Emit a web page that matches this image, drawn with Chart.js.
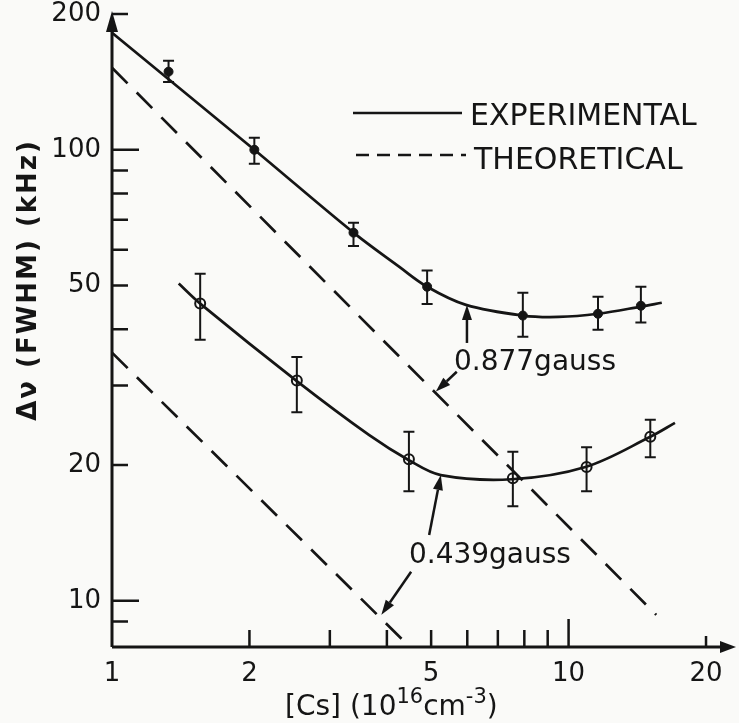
<!DOCTYPE html>
<html>
<head>
<meta charset="utf-8">
<script src="https://cdn.jsdelivr.net/npm/chart.js@4.4.1/dist/chart.umd.min.js"></script>
<style>
  html, body { margin: 0; padding: 0; background: #fafaf8; }
  #wrap { width: 739px; height: 723px; }
</style>
</head>
<body>
<div id="wrap"><canvas id="grafica"></canvas></div>
<script>
// upper set (0.877 gauss), filled dots
const altoX = [1.33, 2.05, 3.38, 4.90, 7.94, 11.6, 14.4];
const altoY = [149, 100, 65.5, 49.7, 42.9, 43.3, 45.1];
const altoMax = [157.5, 106.3, 68.9, 54.0, 48.2, 47.2, 49.7];
const altoMin = [141.4, 93.1, 61.2, 45.5, 38.5, 39.9, 41.4];

// lower set (0.439 gauss), open circles
const bajoX = [1.56, 2.54, 4.47, 7.55, 10.95, 15.1];
const bajoY = [45.6, 30.8, 20.6, 18.7, 19.8, 23.1];
const bajoMax = [53.1, 34.7, 23.7, 21.4, 21.9, 25.2];
const bajoMin = [37.9, 26.2, 17.5, 16.2, 17.5, 20.8];

// experimental fit curves
const curvaAltoX = [1.0, 2.05, 3.38, 4.26, 4.90, 5.96, 7.94, 9.51, 11.6, 14.4, 16.0];
const curvaAltoY = [181.7, 100, 65.5, 55.0, 49.7, 45.3, 42.9, 42.6, 43.3, 44.9, 45.8];
const curvaBajoX = [1.40, 1.56, 2.54, 3.66, 4.47, 5.25, 7.51, 10.89, 15.1, 17.1];
const curvaBajoY = [50.5, 45.6, 30.7, 23.3, 20.5, 19.0, 18.6, 19.8, 23.1, 24.8];

// theoretical (dashed) lines
const teoAltoX = [1, 15.56];
const teoAltoY = [152, 9.31];
const teoBajoX = [1, 4.7];
const teoBajoY = [35.5, 7.55];

// axis ticks
const xMarcas = [1, 2, 3, 4, 5, 6, 7, 8, 9, 10, 20];
const xEtiquetas = [1, 2, 5, 10, 20];
const yMarcas = [9, 10, 20, 30, 40, 50, 60, 70, 80, 90, 100, 200];
const yEtiquetas = [10, 20, 50, 100, 200];

const tinta = '#151515';
const fuente = 'DejaVu Sans';

const puntos = (xs, ys) => xs.map((x, i) => ({ x: x, y: ys[i] }));

function flecha(ctx, x1, y1, x2, y2) {
    const ang = Math.atan2(y2 - y1, x2 - x1);
    const bx = x2 - 15 * Math.cos(ang), by = y2 - 15 * Math.sin(ang);
    ctx.beginPath();
    ctx.moveTo(x1, y1);
    ctx.lineTo(bx, by);
    ctx.stroke();
    ctx.beginPath();
    ctx.moveTo(x2, y2);
    ctx.lineTo(bx + 5 * Math.sin(ang), by - 5 * Math.cos(ang));
    ctx.lineTo(bx - 5 * Math.sin(ang), by + 5 * Math.cos(ang));
    ctx.closePath();
    ctx.fill();
}

const dibujo = {
    id: 'dibujo',
    afterDatasetsDraw(chart) {
        const ctx = chart.ctx;
        const a = chart.chartArea;
        const sx = chart.scales.x, sy = chart.scales.y;
        ctx.save();
        ctx.strokeStyle = tinta;
        ctx.fillStyle = tinta;
        ctx.lineCap = 'butt';

        // axes with arrows
        ctx.lineWidth = 3;
        ctx.beginPath();
        ctx.moveTo(a.left, a.bottom);
        ctx.lineTo(a.left, a.top + 10);
        ctx.moveTo(a.left, a.bottom);
        ctx.lineTo(a.right - 6, a.bottom);
        ctx.stroke();
        ctx.beginPath();
        ctx.moveTo(a.left, a.top - 3);
        ctx.lineTo(a.left - 6, a.top + 18);
        ctx.lineTo(a.left + 6, a.top + 18);
        ctx.closePath();
        ctx.fill();
        ctx.beginPath();
        ctx.moveTo(a.right + 4, a.bottom);
        ctx.lineTo(a.right - 12, a.bottom - 6);
        ctx.lineTo(a.right - 12, a.bottom + 6);
        ctx.closePath();
        ctx.fill();

        // inward tick marks
        ctx.lineWidth = 2.5;
        ctx.beginPath();
        yMarcas.forEach(v => {
            const py = sy.getPixelForValue(v);
            const largo = (v === 10 || v === 100) ? 27 : 16;
            ctx.moveTo(a.left, py);
            ctx.lineTo(a.left + largo, py);
        });
        xMarcas.forEach(v => {
            if (v === 1) return;
            const px = sx.getPixelForValue(v);
            const largo = v === 10 ? 28 : (v === 20 ? 11 : 17);
            ctx.moveTo(px, a.bottom);
            ctx.lineTo(px, a.bottom - largo);
        });
        ctx.stroke();

        // error bars
        ctx.lineWidth = 2;
        const barras = (xs, hi, lo) => {
            ctx.beginPath();
            xs.forEach((x, i) => {
                const px = sx.getPixelForValue(x);
                const p1 = sy.getPixelForValue(hi[i]);
                const p2 = sy.getPixelForValue(lo[i]);
                ctx.moveTo(px, p1); ctx.lineTo(px, p2);
                ctx.moveTo(px - 5.5, p1); ctx.lineTo(px + 5.5, p1);
                ctx.moveTo(px - 5.5, p2); ctx.lineTo(px + 5.5, p2);
            });
            ctx.stroke();
        };
        barras(altoX, altoMax, altoMin);
        barras(bajoX, bajoMax, bajoMin);

        // legend
        ctx.lineWidth = 2.5;
        ctx.beginPath();
        ctx.moveTo(353, 113); ctx.lineTo(462, 113);
        ctx.stroke();
        ctx.setLineDash([13, 8]);
        ctx.beginPath();
        ctx.moveTo(356, 155); ctx.lineTo(466, 155);
        ctx.stroke();
        ctx.setLineDash([]);
        ctx.font = '30px ' + fuente;
        ctx.textAlign = 'left';
        ctx.textBaseline = 'middle';
        ctx.fillText('EXPERIMENTAL', 470, 117);
        ctx.fillText('THEORETICAL', 474, 161);

        // field labels with arrows
        const P = (x, y) => [sx.getPixelForValue(x), sy.getPixelForValue(y)];
        ctx.font = '28px ' + fuente;
        ctx.textBaseline = 'alphabetic';
        let t = P(5.61, 32.5);
        ctx.fillText('0.877gauss', t[0], t[1]);
        ctx.lineWidth = 2.5;
        let p = P(5.99, 37.3), q = P(5.99, 45.3);
        flecha(ctx, p[0], p[1], q[0], q[1]);
        p = P(5.69, 32.2); q = P(5.12, 29.1);
        flecha(ctx, p[0], p[1], q[0], q[1]);
        t = P(4.47, 12.1);
        ctx.fillText('0.439gauss', t[0], t[1]);
        p = P(4.95, 14.0); q = P(5.25, 19.0);
        flecha(ctx, p[0], p[1], q[0], q[1]);
        p = P(4.52, 11.6); q = P(3.89, 9.31);
        flecha(ctx, p[0], p[1], q[0], q[1]);

        // y title
        ctx.save();
        ctx.translate(29, 280);
        ctx.rotate(-Math.PI / 2);
        ctx.font = 'bold 26px ' + fuente;
        ctx.letterSpacing = '2px';
        ctx.textAlign = 'center';
        ctx.textBaseline = 'middle';
        ctx.fillText('\u0394\u03bd (FWHM) (kHz)', 0, 0);
        ctx.restore();

        // x title with superscripts
        const trozos = [
            ['[Cs] (10', 28, 0], ['16', 21, 12], ['cm', 28, 0], ['-3', 21, 12], [')', 28, 0]
        ];
        let cx = 285;
        ctx.textAlign = 'left';
        ctx.textBaseline = 'alphabetic';
        trozos.forEach(tr => {
            ctx.font = tr[1] + 'px ' + fuente;
            ctx.fillText(tr[0], cx, 715 - tr[2]);
            cx += ctx.measureText(tr[0]).width;
        });
        ctx.restore();
    }
};

const curva = (xs, ys) => ({
    data: puntos(xs, ys), showLine: true, borderColor: tinta, borderWidth: 2.7,
    pointRadius: 0, tension: 0.35, fill: false
});
const recta = (xs, ys) => ({
    data: puntos(xs, ys), showLine: true, borderColor: tinta, borderWidth: 2.7,
    borderDash: [22, 13], pointRadius: 0, fill: false
});

new Chart(document.querySelector('#grafica'), {
    type: 'scatter',
    data: {
        datasets: [
            curva(curvaAltoX, curvaAltoY),
            curva(curvaBajoX, curvaBajoY),
            recta(teoAltoX, teoAltoY),
            recta(teoBajoX, teoBajoY),
            { data: puntos(altoX, altoY), pointRadius: 4.5, backgroundColor: tinta, borderColor: tinta, borderWidth: 1 },
            { data: puntos(bajoX, bajoY), pointRadius: 5, backgroundColor: '#fafaf8', borderColor: tinta, borderWidth: 2 }
        ]
    },
    options: {
        responsive: true,
        maintainAspectRatio: false,
        animation: false,
        layout: { padding: { top: 14, right: 4, left: 0, bottom: 0 } },
        plugins: { legend: { display: false }, tooltip: { enabled: false } },
        scales: {
            x: {
                type: 'logarithmic', min: 1, max: 22.8,
                grid: { display: false, drawTicks: false }, border: { display: false },
                afterBuildTicks: s => { s.ticks = xMarcas.map(v => ({ value: v })); },
                afterFit: s => { s.height = 76; s.paddingLeft = 0; s.paddingRight = 0; },
                ticks: {
                    autoSkip: false, maxRotation: 0, padding: 12, color: tinta,
                    font: { family: fuente, size: 26 },
                    callback: v => xEtiquetas.includes(v) ? String(v) : ''
                }
            },
            y: {
                type: 'logarithmic', min: 7.9, max: 200,
                grid: { display: false, drawTicks: false }, border: { display: false },
                afterBuildTicks: s => { s.ticks = yMarcas.map(v => ({ value: v })); },
                afterFit: s => { s.width = 112; s.paddingTop = 0; s.paddingBottom = 0; },
                ticks: {
                    autoSkip: false, padding: 11, color: tinta,
                    font: { family: fuente, size: 26 },
                    callback: v => yEtiquetas.includes(v) ? String(v) : ''
                }
            }
        }
    },
    plugins: [dibujo]
});
</script>
</body>
</html>
